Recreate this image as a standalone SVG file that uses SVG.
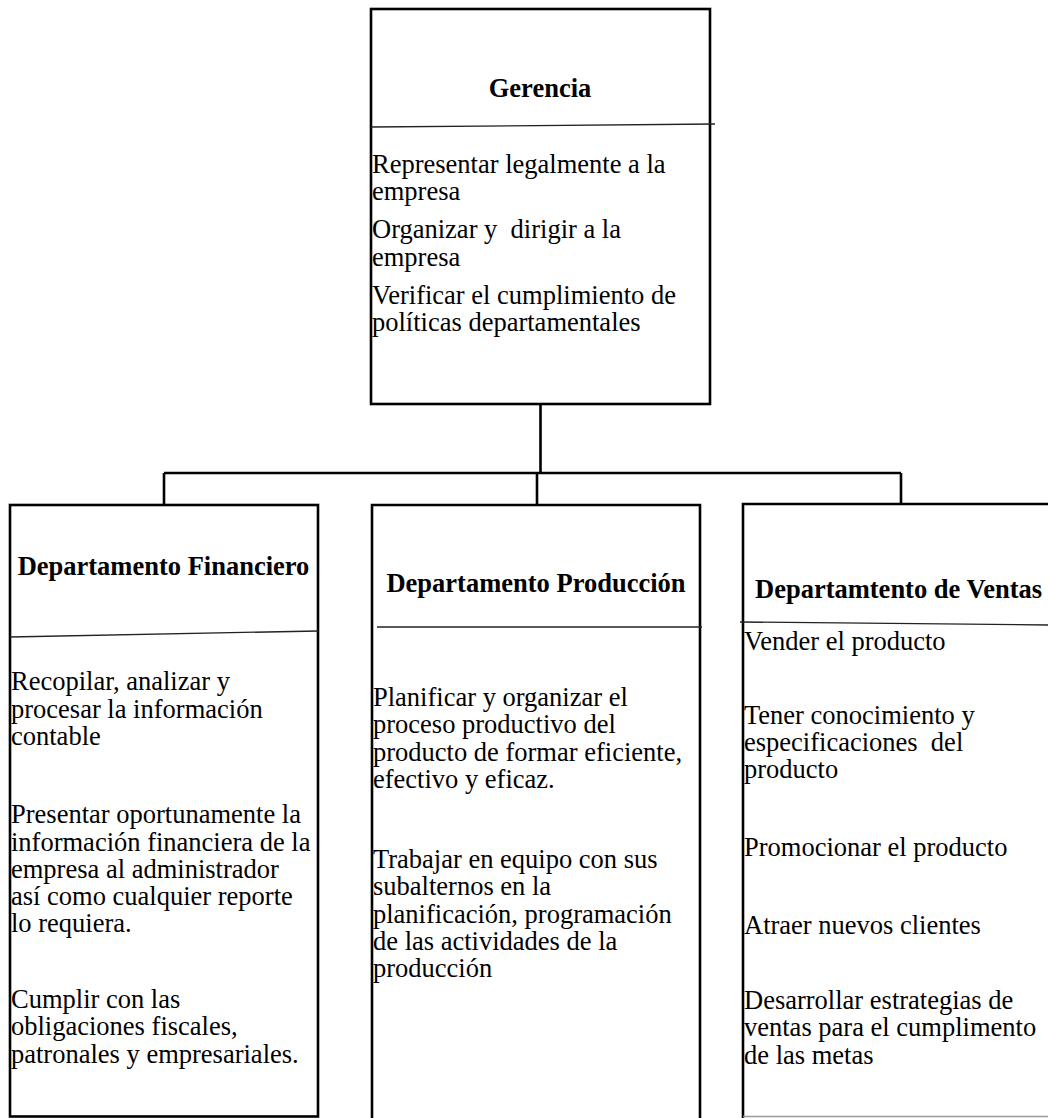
<svg xmlns="http://www.w3.org/2000/svg" width="1048" height="1118" viewBox="0 0 1048 1118">
<style>
.box{fill:none;stroke:#000;stroke-width:2.6}
.div{fill:none;stroke:#222;stroke-width:1.3}
.con{fill:none;stroke:#000;stroke-width:2.6}
.t{font-family:"Liberation Serif","Times New Roman",serif;font-size:26.5px;fill:#000}
.h{font-family:"Liberation Serif","Times New Roman",serif;font-size:26.5px;font-weight:bold;fill:#000}
</style>
<rect width="1048" height="1118" fill="#fff"/>
<g id="connectors">
<path class="con" d="M540.5 404 V473 M164 473 H901 M164 473 V505 M537 473 V505 M901 473 V504"/>
</g>
<g id="gerencia">
<rect class="box" x="371" y="9" width="339" height="395"/>
<path class="div" d="M371 127 L715 124"/>
<text class="h" x="540" y="97" text-anchor="middle">Gerencia</text>
<text class="t" x="372" y="173">Representar legalmente a la</text>
<text class="t" x="372" y="200">empresa</text>
<text class="t" x="372" y="238">Organizar y&#160; dirigir a la</text>
<text class="t" x="372" y="266">empresa</text>
<text class="t" x="372" y="304">Verificar el cumplimiento de</text>
<text class="t" x="372" y="331">políticas departamentales</text>
</g>
<g id="financiero">
<rect class="box" x="10" y="505" width="308" height="611.5"/>
<path class="div" d="M10 637 L318 631"/>
<text class="h" x="163.5" y="575" text-anchor="middle">Departamento Financiero</text>
<text class="t" x="11" y="690">Recopilar, analizar y</text>
<text class="t" x="11" y="718">procesar la información</text>
<text class="t" x="11" y="745">contable</text>
<text class="t" x="11" y="823">Presentar oportunamente la</text>
<text class="t" x="11" y="851">información financiera de la</text>
<text class="t" x="11" y="878">empresa al administrador</text>
<text class="t" x="11" y="905">así como cualquier reporte</text>
<text class="t" x="11" y="932">lo requiera.</text>
<text class="t" x="11" y="1008">Cumplir con las</text>
<text class="t" x="11" y="1035">obligaciones fiscales,</text>
<text class="t" x="11" y="1063">patronales y empresariales.</text>
</g>
<g id="produccion">
<path class="box" d="M372 1118 V505 H700 V1118"/>
<path class="div" d="M377 627 H702"/>
<text class="h" x="536" y="592" text-anchor="middle">Departamento Producción</text>
<text class="t" x="373" y="706">Planificar y organizar el</text>
<text class="t" x="373" y="733">proceso productivo del</text>
<text class="t" x="373" y="761">producto de formar eficiente,</text>
<text class="t" x="373" y="788">efectivo y eficaz.</text>
<text class="t" x="373" y="868">Trabajar en equipo con sus</text>
<text class="t" x="373" y="895">subalternos en la</text>
<text class="t" x="373" y="923">planificación, programación</text>
<text class="t" x="373" y="950">de las actividades de la</text>
<text class="t" x="373" y="977">producción</text>
</g>
<g id="ventas">
<path class="box" d="M743 1118 V504 H1048"/>
<path d="M743 1116.5 H1048" fill="none" stroke="#999" stroke-width="1.3"/>
<path class="div" d="M740 622 L1048 625"/>
<text class="h" x="755" y="598">Departamtento de Ventas</text>
<text class="t" x="744" y="650">Vender el producto</text>
<text class="t" x="744" y="724">Tener conocimiento y</text>
<text class="t" x="744" y="751">especificaciones&#160; del</text>
<text class="t" x="744" y="778">producto</text>
<text class="t" x="744" y="856">Promocionar el producto</text>
<text class="t" x="744" y="934">Atraer nuevos clientes</text>
<text class="t" x="744" y="1009">Desarrollar estrategias de</text>
<text class="t" x="744" y="1036">ventas para el cumplimento</text>
<text class="t" x="744" y="1064">de las metas</text>
</g>
</svg>
